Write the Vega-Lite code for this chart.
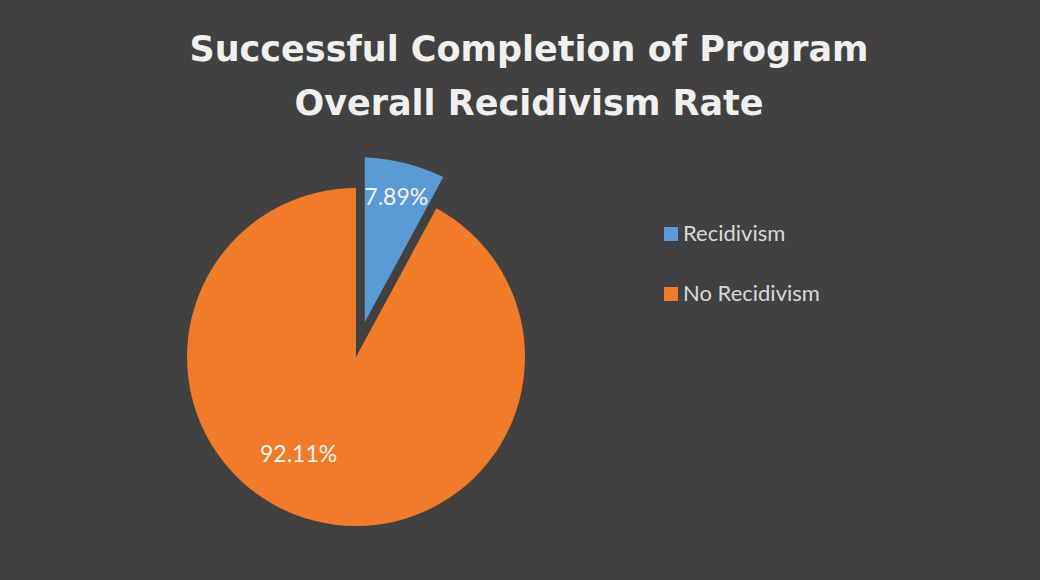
{
  "$schema": "https://vega.github.io/schema/vega-lite/v6.json",
  "width": 696,
  "height": 414,
  "autosize": "none",
  "padding": {"left": 8, "top": 150, "right": 336, "bottom": 16},
  "background": "#414141",
  "config": {"view": {"stroke": null}, "font": "Lato"},
  "title": {
    "text": ["Successful Completion of Program", "Overall Recidivism Rate"],
    "font": "DejaVu Sans",
    "fontSize": 35,
    "fontWeight": "bold",
    "color": "#F0F0F0",
    "anchor": "middle",
    "dx": 173,
    "lineHeight": 54,
    "baseline": "bottom",
    "offset": -7
  },
  "data": {
    "values": [
      {"category": "Recidivism", "share": 0.0789},
      {"category": "No Recidivism", "share": 0.9211}
    ]
  },
  "encoding": {
    "theta": {"field": "share", "type": "quantitative", "stack": true},
    "order": {"field": "category", "sort": "descending"}
  },
  "layer": [
    {
      "mark": {"type": "arc", "outerRadius": 169, "innerRadius": 0},
      "encoding": {
        "color": {
          "field": "category",
          "type": "nominal",
          "scale": {"domain": ["Recidivism", "No Recidivism"], "range": ["#5A9AD5", "#F07B28"]},
          "legend": {
            "orient": "none",
            "legendX": 652,
            "legendY": 73,
            "title": null,
            "symbolType": "square",
            "symbolSize": 196,
            "symbolStrokeWidth": 0,
            "symbolOpacity": 1,
            "labelFont": "Lato",
            "labelFontSize": 22,
            "labelColor": "#D9D9D9",
            "labelOffset": 1,
            "rowPadding": 38,
            "padding": 0
          }
        },
        "opacity": {"condition": {"test": "datum.category === 'Recidivism'", "value": 0}, "value": 1}
      }
    },
    {
      "mark": {"type": "arc", "outerRadius": 200, "innerRadius": 36, "padAngle": 0.0867},
      "encoding": {
        "color": {"field": "category", "type": "nominal"},
        "opacity": {"condition": {"test": "datum.category === 'Recidivism'", "value": 1}, "value": 0}
      }
    },
    {
      "mark": {"type": "text", "radius": 164, "font": "Lato", "fontSize": 23, "color": "#F5F5F5"},
      "encoding": {
        "text": {"field": "share", "type": "quantitative", "format": ".2%"},
        "opacity": {"condition": {"test": "datum.category === 'Recidivism'", "value": 1}, "value": 0}
      }
    },
    {
      "mark": {"type": "text", "radius": 114, "thetaOffset": 0.28, "font": "Lato", "fontSize": 23, "color": "#F5F5F5"},
      "encoding": {
        "text": {"field": "share", "type": "quantitative", "format": ".2%"},
        "opacity": {"condition": {"test": "datum.category === 'Recidivism'", "value": 0}, "value": 1}
      }
    }
  ]
}
